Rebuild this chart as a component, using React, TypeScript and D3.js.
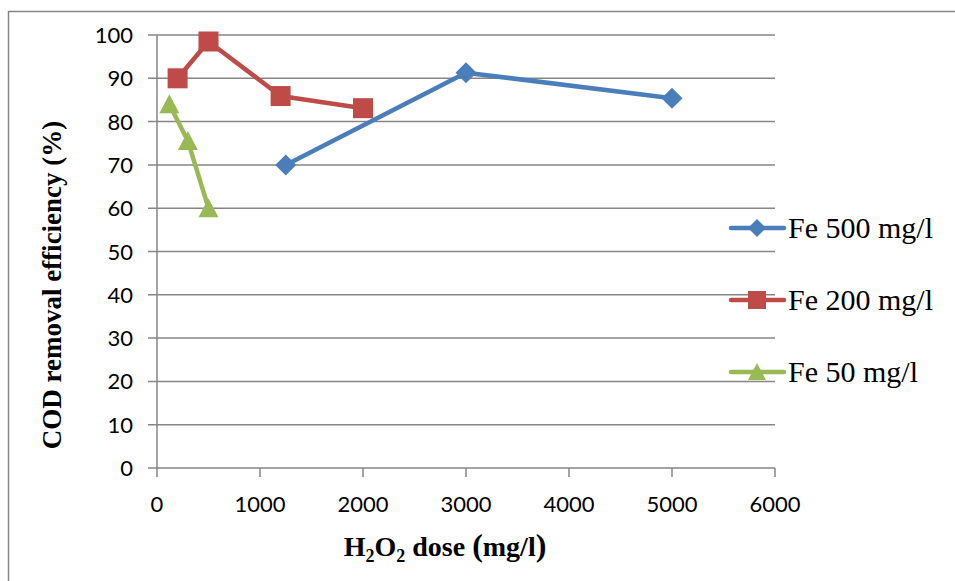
import React from "react";
import * as d3 from "d3";

const xTicks = [0, 1000, 2000, 3000, 4000, 5000, 6000];
const yTicks = [0, 10, 20, 30, 40, 50, 60, 70, 80, 90, 100];

const fe500X = [1250, 3000, 5000];
const fe500Y = [70, 91.3, 85.4];
const fe200X = [200, 500, 1200, 2000];
const fe200Y = [90, 98.5, 85.9, 83.1];
const fe50X = [120, 300, 500];
const fe50Y = [84, 75.5, 60];

const seriesNames = ["Fe 500 mg/l", "Fe 200 mg/l", "Fe 50 mg/l"];
const seriesColors = ["#4A7EBB", "#BE4B48", "#98B954"];
const seriesShapes = ["diamond", "square", "triangle"];

const W = 955;
const H = 581;
const plot = { left: 157, right: 775, top: 35, bottom: 468 };

function Marker({ shape, x, y, color, s }: { shape: string; x: number; y: number; color: string; s: number }) {
  if (shape === "diamond") {
    const r = s / 2;
    return <path d={`M${x},${y - r}L${x + r},${y}L${x},${y + r}L${x - r},${y}Z`} fill={color} />;
  }
  if (shape === "square") {
    return <rect x={x - s / 2} y={y - s / 2} width={s} height={s} fill={color} />;
  }
  const h = s * 0.9;
  return <path d={`M${x},${y - h / 2 - 1}L${x + s / 2},${y + h / 2}L${x - s / 2},${y + h / 2}Z`} fill={color} />;
}

export default function App() {
  const x = d3.scaleLinear().domain([0, 6000]).range([plot.left, plot.right]);
  const y = d3.scaleLinear().domain([0, 100]).range([plot.bottom, plot.top]);
  const line = d3.line<[number, number]>().x((d) => x(d[0])).y((d) => y(d[1]));

  const series = [
    { xs: fe500X, ys: fe500Y },
    { xs: fe200X, ys: fe200Y },
    { xs: fe50X, ys: fe50Y },
  ];
  const grid = "#868686";
  const tickFont = "Lato, 'Open Sans', sans-serif";
  const serif = "'Liberation Serif', 'Times New Roman', serif";

  return (
    <svg width={W} height={H} style={{ position: "absolute", left: 0, top: 0, background: "#fff" }}>
      <rect x={0} y={0} width={W} height={H} fill="#fff" />
      <path d={`M8.5,${H}L8.5,11.5L${W},11.5`} fill="none" stroke={grid} strokeWidth={1.5} />
      {yTicks.map((t) => (
        <g key={"y" + t}>
          <line x1={plot.left - 9} x2={plot.right} y1={y(t)} y2={y(t)} stroke={grid} strokeWidth={1.5} />
          <text x={plot.left - 24} y={y(t) + 8} textAnchor="end" fontFamily={tickFont} fontSize={22} fill="#000">
            {t}
          </text>
        </g>
      ))}
      <line x1={plot.left} x2={plot.left} y1={plot.top} y2={plot.bottom} stroke={grid} strokeWidth={1.5} />
      {xTicks.map((t) => (
        <g key={"x" + t}>
          <line x1={x(t)} x2={x(t)} y1={plot.bottom} y2={plot.bottom + 9} stroke={grid} strokeWidth={1.5} />
          <text x={x(t)} y={plot.bottom + 44} textAnchor="middle" fontFamily={tickFont} fontSize={22} fill="#000">
            {t}
          </text>
        </g>
      ))}
      {series.map((s, i) => {
        const pts = s.xs.map((v, j) => [v, s.ys[j]] as [number, number]);
        return (
          <g key={"s" + i}>
            <path d={line(pts) || ""} fill="none" stroke={seriesColors[i]} strokeWidth={4.5} strokeLinejoin="round" />
            {pts.map((p, j) => (
              <Marker key={j} shape={seriesShapes[i]} x={x(p[0])} y={y(p[1])} color={seriesColors[i]} s={i === 0 ? 21 : 20} />
            ))}
          </g>
        );
      })}
      {seriesNames.map((n, i) => {
        const ly = 228 + i * 72;
        return (
          <g key={"l" + i}>
            <line x1={731} x2={784} y1={ly} y2={ly} stroke={seriesColors[i]} strokeWidth={4.5} strokeLinecap="round" />
            <Marker shape={seriesShapes[i]} x={757} y={ly} color={seriesColors[i]} s={18} />
            <text x={788} y={ly + 10} fontFamily={serif} fontSize={30} fill="#000">
              {n}
            </text>
          </g>
        );
      })}
      <text x={445} y={556} textAnchor="middle" fontFamily={serif} fontSize={28} fontWeight="bold" fill="#000">
        H<tspan fontSize={18} dy={6}>2</tspan>
        <tspan dy={-6}>O</tspan>
        <tspan fontSize={18} dy={6}>2</tspan>
        <tspan dy={-6}> dose </tspan>
        <tspan fontSize={32}>(</tspan>
        <tspan>mg/l</tspan>
        <tspan fontSize={32}>)</tspan>
      </text>
      <text
        transform={`translate(61,285) rotate(-90)`}
        textAnchor="middle"
        fontFamily={serif}
        fontSize={27}
        fontWeight="bold"
        fill="#000"
      >
        COD removal efficiency (%)
      </text>
    </svg>
  );
}
